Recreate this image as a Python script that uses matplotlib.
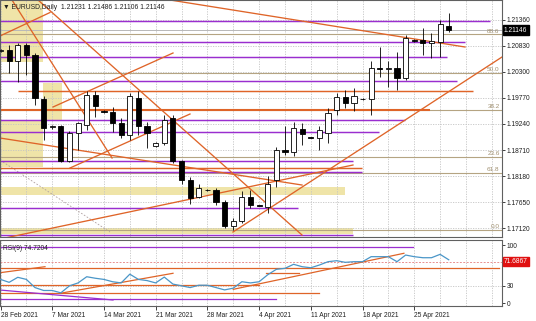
import matplotlib
matplotlib.use("Agg")
import matplotlib.pyplot as plt
import matplotlib.transforms as mtransforms
from matplotlib.patches import Rectangle

plt.rcParams['font.family'] = ['Liberation Sans', 'DejaVu Sans']

# ---------------- data ----------------
date_labels = ["28 Feb 2021", "7 Mar 2021", "14 Mar 2021", "21 Mar 2021", "28 Mar 2021",
               "4 Apr 2021", "11 Apr 2021", "18 Apr 2021", "25 Apr 2021"]
date_label_bars = [0, 6, 12, 18, 24, 30, 36, 42, 48]

opens = [1.2073, 1.2074, 1.2051, 1.2084, 1.2064, 1.1975, 1.1917, 1.1919, 1.1849, 1.1905,
         1.1922, 1.1983, 1.1950, 1.1949, 1.1925, 1.1902, 1.1977, 1.1919, 1.1880, 1.1885,
         1.1936, 1.1848, 1.1810, 1.1775, 1.1790, 1.1790, 1.1766, 1.1716, 1.1726, 1.1776,
         1.1759, 1.1756, 1.1810, 1.1871, 1.1868, 1.1913, 1.1897, 1.1895, 1.1905, 1.1952,
         1.1979, 1.1966, 1.1975, 1.1974, 1.2038, 1.2036, 1.2037, 1.2017, 1.2095, 1.2095,
         1.2088, 1.2091, 1.21231]
highs = [1.2077, 1.2084, 1.2088, 1.2088, 1.2068, 1.1980, 1.1922, 1.1922, 1.1909, 1.1929,
         1.1990, 1.1990, 1.1953, 1.1959, 1.1936, 1.1987, 1.1990, 1.1929, 1.1888, 1.1942,
         1.1942, 1.1851, 1.1816, 1.1803, 1.1791, 1.1793, 1.1770, 1.1733, 1.1787, 1.1790,
         1.1760, 1.1818, 1.1878, 1.1919, 1.1929, 1.1927, 1.1898, 1.1919, 1.1956, 1.1986,
         1.1994, 1.1997, 1.1976, 1.2051, 1.2081, 1.2051, 1.2071, 1.2105, 1.2097, 1.2118,
         1.2108, 1.2135, 1.21486]
lows = [1.2071, 1.2027, 1.2010, 1.2024, 1.1963, 1.1892, 1.1914, 1.1846, 1.1846, 1.1871,
        1.1912, 1.1939, 1.1946, 1.1908, 1.1896, 1.1892, 1.1902, 1.1875, 1.1878, 1.1882,
        1.1844, 1.1803, 1.1762, 1.1773, 1.1788, 1.1760, 1.1712, 1.1709, 1.1723, 1.1753,
        1.1757, 1.1743, 1.1796, 1.1861, 1.1858, 1.1881, 1.1895, 1.1871, 1.1885, 1.1942,
        1.1956, 1.1951, 1.1973, 1.1942, 1.2020, 1.1999, 1.1994, 1.2013, 1.2091, 1.2064,
        1.2057, 1.2060, 1.21106]
closes = [1.2075, 1.2051, 1.2084, 1.2064, 1.1976, 1.1915, 1.1919, 1.1849, 1.1905, 1.1925,
          1.1983, 1.1961, 1.1949, 1.1925, 1.1902, 1.1980, 1.1919, 1.1905, 1.1885, 1.1932,
          1.1848, 1.1810, 1.1773, 1.1793, 1.1789, 1.1766, 1.1716, 1.1726, 1.1776, 1.1760,
          1.1758, 1.1803, 1.1871, 1.1868, 1.1915, 1.1903, 1.1896, 1.1912, 1.1947, 1.1979,
          1.1966, 1.1981, 1.1974, 1.2037, 1.2036, 1.2037, 1.2017, 1.2098, 1.2093, 1.2088,
          1.2093, 1.2128, 1.21146]

rsi_values = [41, 36, 44.6, 41, 27, 22, 22, 18, 30, 35, 45.6, 43, 41, 37, 35, 50, 41, 39, 35, 45,
              33, 30, 27, 31, 31, 27, 23, 26, 37, 35, 37, 49, 58.3, 60, 66.9, 62.8, 61, 65.7,
              71.4, 73.1, 70.3, 71.4, 71.4, 80, 80, 80, 71.4, 82.8, 80, 78.2, 78.2, 84, 74.7]

price_ticks = [1.21360, 1.20830, 1.20300, 1.19770, 1.19240, 1.18710, 1.18180, 1.17650, 1.17120]
rsi_ticks = [100, 30, 0]

# horizontal objects: (price, bar_start, bar_end, kind)
h_lines = [
    (1.21338, -0.06, 56.8, 'purple'),
    (1.20911, -0.06, 53.9, 'purple'),
    (1.20607, -0.06, 51.8, 'purple'),
    (1.20119, -0.06, 52.96, 'purple'),
    (1.19916, 2.0, 54.8, 'orange'),
    (1.19534, -0.06, 49.8, 'orange_thick'),
    (1.19311, -0.06, 46.9, 'purple'),
    (1.19071, -0.06, 43.9, 'purple'),
    (1.18488, -0.06, 40.9, 'purple'),
    (1.18340, -0.06, 41.9, 'orange'),
    (1.18275, -0.06, 41.9, 'purple'),
    (1.17527, -0.06, 34.5, 'purple'),
    (1.16985, -0.06, 40.9, 'purple'),
]
# fib levels: (price, label)
fib_levels = [(1.21061, "88.6"), (1.20282, "50.0"), (1.19524, "38.2"),
              (1.18576, "23.6"), (1.18251, "61.8"), (1.17087, "0.0")]
# zones: (bar_start, bar_end, price_low, price_high)
zones = [
    (-0.06, 4.93, 1.20499, 1.21758),
    (-0.06, 4.93, 1.18364, 1.19319),
    (4.93, 7.13, 1.19319, 1.20072),
    (-0.06, 39.96, 1.17798, 1.17960),
    (-0.06, 40.9, 1.17016, 1.17127),
]
# trend lines: (bar1, price1, bar2, price2)
trend_lines = [
    (4.35, 1.217581, 34.98, 1.169852),
    (1.33, 1.217581, 12.94, 1.185491),
    (19.66, 1.217581, 53.89, 1.208035),
    (-0.06, 1.210269, 5.74, 1.215042),
    (6.09, 1.195849, 20.01, 1.206816),
    (0.52, 1.169243, 40.89, 1.184069),
    (26.97, 1.170462, 58.18, 1.206004),
    (-0.06, 1.189553, 34.98, 1.180007),
    (8.06, 1.183460, 21.98, 1.194427),
]
gray_diag = (0.29, 1.184679, 12.70, 1.170462)

# RSI objects
rsi_h_lines = [(97.1, -0.06, 47.85, 'purple'), (60.0, -0.06, 57.8, 'orange'),
               (31.0, -0.06, 30.0, 'orange'), (18.0, -0.06, 36.9, 'orange'),
               (51.5, 30.8, 34.6, 'orange'), (7.0, -0.06, 31.96, 'purple')]
rsi_trend = [(-0.06, 52.5, 5.16, 62.8, 'orange'), (-0.06, 22.8, 13.05, 5.7, 'purple'),
             (7.13, 17.7, 20.01, 51.5, 'orange'), (27.0, 24.0, 46.8, 85.8, 'orange')]
rsi_level = 71.6867
current_price = 1.21146

# ---------------- styles ----------------
PURPLE = '#9a2ecf'
ORANGE = '#df6428'
FIB = '#b5a482'
YELLOW = '#efe4a8'
GRID = '#c4c4c4'
W, H = 536, 321
xlim = (-0.06, 58.18)

fig = plt.figure(figsize=(W / 100, H / 100), dpi=100)
ax = fig.add_axes([0, 1 - 237 / H, 502 / W, 237 / H])
ax2 = fig.add_axes([0, 1 - 306 / H, 502 / W, 66 / H])

for a in (ax, ax2):
    a.set_xlim(*xlim)
    for s in a.spines.values():
        s.set_color('#606060')
        s.set_linewidth(0.8)
    a.set_facecolor('white')

ax.set_ylim(1.16945, 1.21758)
ax2.set_ylim(-4.6, 108.6)

# grid
for b in range(0, 58, 3):
    ax.axvline(b, color=GRID, lw=0.6, ls=(0, (1.5, 1.5)), zorder=0.5)
    ax2.axvline(b, color=GRID, lw=0.6, ls=(0, (1.5, 1.5)), zorder=0.5)
for p in price_ticks:
    ax.axhline(p, color=GRID, lw=0.6, ls=(0, (1.5, 1.5)), zorder=0.5)

# zones
for b0, b1, lo, hi in zones:
    ax.add_patch(Rectangle((b0, lo), b1 - b0, hi - lo, facecolor=YELLOW, edgecolor='none', zorder=0.3))

# fib lines
for p, lab in fib_levels:
    ax.axhline(p, color=FIB, lw=0.8, zorder=1)
    ax.text(57.9, p + 0.00012, lab, color='#a09070', fontsize=4.6, ha='right', va='bottom', zorder=5)

# bid line
ax.axhline(current_price, color='#b8b8b8', lw=0.7, zorder=1)

# horizontal objects
for p, b0, b1, kind in h_lines:
    c = PURPLE if kind == 'purple' else ORANGE
    lw = 1.5 if kind == 'orange_thick' else 1.05
    ax.plot([b0, b1], [p, p], color=c, lw=lw, solid_capstyle='butt', zorder=2)

# trend lines
for b0, p0, b1, p1 in trend_lines:
    ax.plot([b0, b1], [p0, p1], color=ORANGE, lw=0.95, zorder=2)
ax.plot([gray_diag[0], gray_diag[2]], [gray_diag[1], gray_diag[3]], color='#b0a0a0', lw=0.6,
        ls=(0, (2, 2)), zorder=1.5)

# candles
idx = list(range(len(opens)))
ax.vlines(idx, lows, highs, color='black', lw=0.6, zorder=3)
for i, o, c in zip(idx, opens, closes):
    lo, hi = min(o, c), max(o, c)
    h = max(hi - lo, 0.00004)
    face = 'white' if c >= o else 'black'
    ax.bar(i, h, bottom=lo, width=0.6, color=face, edgecolor='black', linewidth=0.6, zorder=4)

# axis ticks
ax.set_xticks([])
ax.yaxis.tick_right()
ax.set_yticks(price_ticks)
ax.set_yticklabels([f"{p:.5f}" for p in price_ticks])
ax.tick_params(axis='y', labelsize=4.8, length=2, width=0.6, pad=1.5, colors='#202020')

trans = mtransforms.blended_transform_factory(ax.transAxes, ax.transData)
ax.text(1.004, current_price, f"{current_price:.5f}", transform=trans, color='white', fontsize=4.8,
        ha='left', va='center', zorder=10, clip_on=False,
        bbox=dict(facecolor='black', edgecolor='black', pad=0.9))

ax.text(0.006, 0.985, "\u25bc EURUSD,Daily  1.21231 1.21486 1.21106 1.21146", transform=ax.transAxes,
        fontsize=4.9, ha='left', va='top', color='#202020', zorder=10)

# RSI panel
for v, b0, b1, kind in rsi_h_lines:
    ax2.plot([b0, b1], [v, v], color=PURPLE if kind == 'purple' else ORANGE, lw=0.9, zorder=2)
for b0, v0, b1, v1, kind in rsi_trend:
    ax2.plot([b0, b1], [v0, v1], color=PURPLE if kind == 'purple' else ORANGE, lw=0.9, zorder=2)
ax2.axhline(rsi_level, color='#e89090', lw=0.7, ls=(0, (2, 1.5)), zorder=1.5)
ax2.axhline(30, color=GRID, lw=0.6, ls=(0, (1.5, 1.5)), zorder=0.5)
ax2.plot(idx, rsi_values, color='#4a96c8', lw=0.9, zorder=3)

ax2.yaxis.tick_right()
ax2.set_yticks(rsi_ticks)
ax2.set_yticklabels([str(t) for t in rsi_ticks])
ax2.tick_params(axis='y', labelsize=4.8, length=2, width=0.6, pad=1.5, colors='#202020')
trans2 = mtransforms.blended_transform_factory(ax2.transAxes, ax2.transData)
ax2.text(1.004, rsi_level, f"{rsi_level:.4f}", transform=trans2, color='white', fontsize=4.8,
         ha='left', va='center', zorder=10, clip_on=False,
         bbox=dict(facecolor='#e01010', edgecolor='#e01010', pad=0.9))
ax2.text(0.006, 0.93, f"RSI(9) {rsi_values[-1]:.4f}".replace("74.7000", "74.7204"),
         transform=ax2.transAxes, fontsize=4.8, ha='left', va='top', color='#202020', zorder=10)

ax2.set_xticks(date_label_bars)
ax2.set_xticklabels(date_labels, ha='left')
ax2.tick_params(axis='x', labelsize=4.8, length=3, width=0.6, pad=1.5, colors='#202020')

fig.savefig("out.png", dpi=100, facecolor='white')
